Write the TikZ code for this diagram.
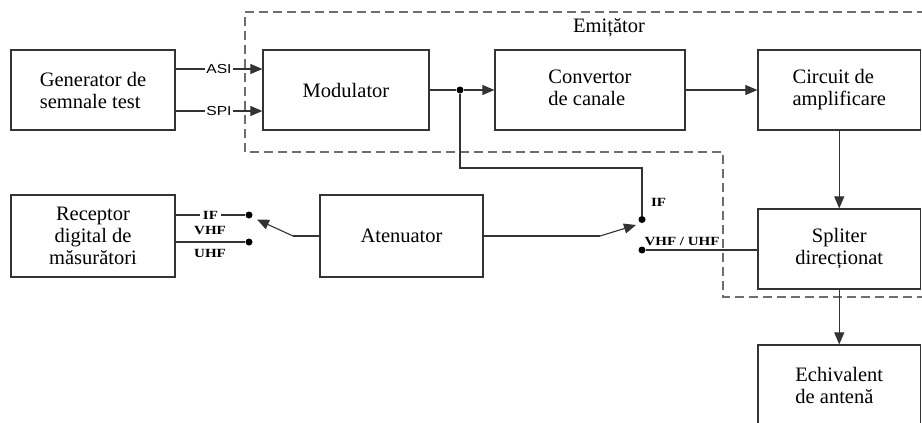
\documentclass[tikz,border=0pt]{standalone}
\usepackage{fontspec}
\usepackage{graphicx}
\setmainfont{Liberation Serif}
\newfontfamily\arialf{Liberation Sans}
\usetikzlibrary{arrows.meta,calc}
\definecolor{ln}{HTML}{333333}
\definecolor{dsh}{HTML}{6E6E6E}
\tikzset{
  blk/.style={draw=ln, line width=1.2pt, inner sep=0pt, font=\fontsize{20.5}{22}\selectfont},
  conn/.style={draw=ln, line width=1.1pt},
  arr/.style={conn, -{Triangle[length=12pt,width=10pt]}},
  dotn/.style={circle, fill=black, inner sep=0pt, minimum size=7pt},
  sanslab/.style={fill=white, inner sep=1pt, font=\arialf\fontsize{13}{13}\selectfont},
  serlab/.style={inner sep=0pt, font=\bfseries\fontsize{12.5}{13}\selectfont},
  emitbox/.style={draw=dsh, line width=1.3pt, dash pattern=on 9pt off 5pt}
}
\begin{document}
\begin{tikzpicture}[x=1pt,y=-1pt]
\useasboundingbox (0,0) rectangle (922,423);
\clip (0,0) rectangle (922,423);
\fill[white] (0,0) rectangle (922,423);
% emitter region
\draw[emitbox] (940,12) -| (245,152) -| (723,297) -- (940,297);
\node[font=\fontsize{20.5}{22}\selectfont, inner sep=0pt] (emit) at (609,28) {Emițător};
% blocks
\node[blk, minimum width=164pt, minimum height=80pt, align=left] (gen) at (93,90) {Generator de\\semnale test};
\node[blk, minimum width=166pt, minimum height=80pt] (mod) at (346,90) {Modulator};
\node[blk, minimum width=190pt, minimum height=80pt, align=left] (conv) at (590,90) {Convertor\\de canale\vphantom{p}};
\node[blk, minimum width=162.5pt, minimum height=80pt, align=left] (circ) at (839.25,90) {Circuit de\\amplificare};
\node[blk, minimum width=162.5pt, minimum height=80pt, align=center] (spl) at (839.25,249) {Spliter\\direcționat};
\node[blk, minimum width=162.5pt, minimum height=80pt, align=left] (ech) at (839.25,385) {Echivalent\\de antenă};
\node[blk, minimum width=164pt, minimum height=82pt, align=center] (rec) at (93,236) {Receptor\\digital de\\măsurători};
\node[blk, minimum width=163pt, minimum height=82pt] (att) at (401.5,236) {Atenuator};
% dots and points
\node[dotn] (d1) at (460,90) {};
\node[dotn] (dIF) at (642,219.5) {};
\node[dotn] (dVHF) at (642,250) {};
\node[dotn] (dLIF) at (249,215) {};
\node[dotn] (dLVHF) at (249,242) {};
\coordinate (kink) at (642,168);
\coordinate (swR) at (600,236);
\coordinate (tipR) at (636,225);
\coordinate (swL) at (293,236);
\coordinate (tipL) at (257,219.5);
% connectors
\draw[arr] ([yshift=21pt]gen.east) -- node[sanslab]{\scalebox{1.2}[1]{ASI}} ([yshift=21pt]mod.west);
\draw[arr] ([yshift=-21pt]gen.east) -- node[sanslab]{\scalebox{1.2}[1]{SPI}} ([yshift=-21pt]mod.west);
\draw[conn] (mod.east) -- (d1);
\draw[arr] (d1) -- (conv.west);
\draw[arr] (conv.east) -- (circ.west);
\draw[arr] (circ.south) -- (spl.north);
\draw[arr] (spl.south) -- (ech.north);
\draw[conn] (d1) |- (kink) -- (dIF);
\draw[conn] (dVHF) -- (dVHF -| spl.west);
\draw[conn] (att.east) -- (swR);
\draw[arr] (swR) -- (tipR);
\draw[conn] (att.west) -- (swL);
\draw[arr] (swL) -- (tipL);
\draw[conn] ([yshift=21pt]rec.east) -- node[serlab, fill=white, inner xsep=3pt]{\scalebox{1.2}[1]{IF}} (dLIF);
\draw[conn] ([yshift=-6pt]rec.east) -- (dLVHF);
% switch labels
\node[serlab] (lVHF) at (210,231) {\scalebox{1.2}[1]{VHF}};
\node[serlab] (lUHF) at (210,253) {\scalebox{1.2}[1]{UHF}};
\node[serlab] (rIF) at (658.5,202.5) {\scalebox{1.2}[1]{IF}};
\node[serlab] (rVHF) at (682,241) {\scalebox{1.2}[1]{VHF / UHF}};
\end{tikzpicture}
\end{document}
